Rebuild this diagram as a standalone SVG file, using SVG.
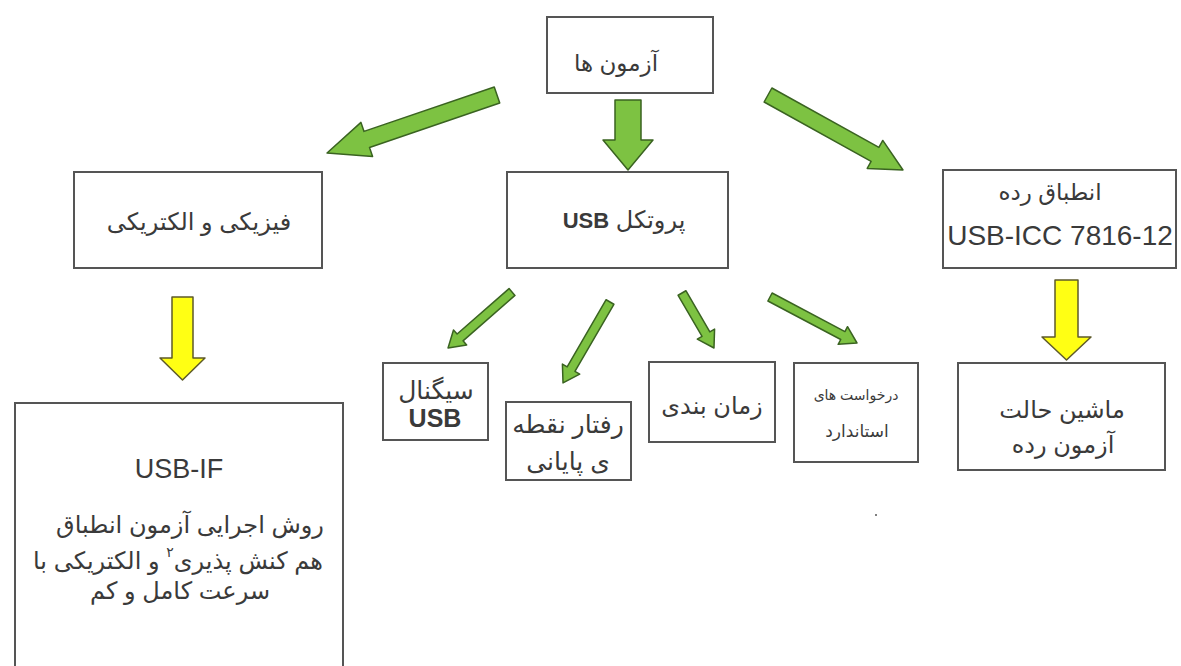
<svg xmlns="http://www.w3.org/2000/svg" width="1181" height="666" viewBox="0 0 1181 666">
<style>
.box{fill:#fff;stroke:#555;stroke-width:2}
.t{font-family:"Liberation Sans","DejaVu Sans",sans-serif;fill:#3a3a3a;text-anchor:middle}
.rtl{direction:rtl;unicode-bidi:embed}
.g{fill:#7dc242;stroke:#3a6321;stroke-width:1.5;stroke-linejoin:round}
.y{fill:#ffff14;stroke:#5e5a2a;stroke-width:1.5;stroke-linejoin:round}
</style>
<rect width="1181" height="666" fill="#fff"/>
<g id="connectors">
<polygon class="g" points="0,-8.5 137.6,-8.5 137.6,-18 179.6,0 137.6,18 137.6,8.5 0,8.5" transform="translate(497,95) rotate(161.16)"/>
<polygon class="g" points="0,-13 40,-13 40,-25 70,0 40,25 40,13 0,13" transform="translate(628,100) rotate(90)"/>
<polygon class="g" points="0,-8 122.4,-8 122.4,-16 154.4,0 122.4,16 122.4,8 0,8" transform="translate(768,95) rotate(29.05)"/>
<polygon class="g" points="0,-4.5 69,-4.5 69,-10 85,0 69,10 69,4.5 0,4.5" transform="translate(512,292) rotate(138.81)"/>
<polygon class="g" points="0,-4.5 77.6,-4.5 77.6,-10 93.6,0 77.6,10 77.6,4.5 0,4.5" transform="translate(610,302) rotate(120.12)"/>
<polygon class="g" points="0,-4.5 47.6,-4.5 47.6,-10 63.6,0 47.6,10 47.6,4.5 0,4.5" transform="translate(682,293) rotate(59.81)"/>
<polygon class="g" points="0,-4.5 82.4,-4.5 82.4,-10 98.4,0 82.4,10 82.4,4.5 0,4.5" transform="translate(770,297) rotate(27.87)"/>
<polygon class="y" points="172,297 193,297 193,358 205,358 182.5,380 160,358 172,358"/>
<polygon class="y" points="1055,280 1078,280 1078,337 1091,337 1066.5,360 1042,337 1055,337"/>
</g>
<g id="tests">
<rect class="box" x="547" y="17" width="166" height="76"/>
<text class="t rtl" x="616" y="71" font-size="23">آزمون ها</text>
</g>
<g id="physical">
<rect class="box" x="74" y="172" width="248" height="96"/>
<text class="t rtl" x="199" y="230" font-size="24">فیزیکی و الکتریکی</text>
</g>
<g id="protocol">
<rect class="box" x="507" y="172" width="221" height="96"/>
<text class="t rtl" x="624" y="228" font-size="24">پروتکل <tspan font-weight="bold" font-size="22">USB</tspan></text>
</g>
<g id="class">
<rect class="box" x="943" y="170" width="233" height="98"/>
<text class="t rtl" x="1050" y="200" font-size="23">انطباق رده</text>
<text class="t" x="1060" y="245" font-size="28">USB-ICC 7816-12</text>
</g>
<g id="usbif">
<rect class="box" x="15" y="403" width="328" height="280"/>
<text class="t" x="179" y="478" font-size="27">USB-IF</text>
<text class="t rtl" x="190" y="533" font-size="24">روش اجرایی آزمون انطباق</text>
<text class="t rtl" x="178" y="569" font-size="24">هم کنش پذیری<tspan font-size="14" dy="-12">۲</tspan><tspan dy="12"> و الکتریکی با</tspan></text>
<text class="t rtl" x="180" y="599" font-size="24">سرعت کامل و کم</text>
</g>
<g id="signal">
<rect class="box" x="383" y="363" width="105" height="77"/>
<text class="t rtl" x="436" y="399" font-size="25">سیگنال</text>
<text class="t" x="435" y="427" font-size="25" font-weight="bold">USB</text>
</g>
<g id="endpoint">
<rect class="box" x="506" y="402" width="125" height="78"/>
<text class="t rtl" x="568" y="433" font-size="25">رفتار نقطه</text>
<text class="t rtl" x="568" y="470" font-size="25">ی پایانی</text>
</g>
<g id="timing">
<rect class="box" x="649" y="362" width="126" height="80"/>
<text class="t rtl" x="712" y="414" font-size="24">زمان بندی</text>
</g>
<g id="requests">
<rect class="box" x="794" y="363" width="124" height="99"/>
<text class="t rtl" x="856" y="400" font-size="14">درخواست های</text>
<text class="t rtl" x="857" y="437" font-size="17">استاندارد</text>
</g>
<g id="statemachine">
<rect class="box" x="958" y="363" width="207" height="107"/>
<text class="t rtl" x="1062" y="418" font-size="24">ماشین حالت</text>
<text class="t rtl" x="1063" y="453" font-size="24">آزمون   رده</text>
</g>
<circle cx="876" cy="515" r="1" fill="#555"/>
</svg>
